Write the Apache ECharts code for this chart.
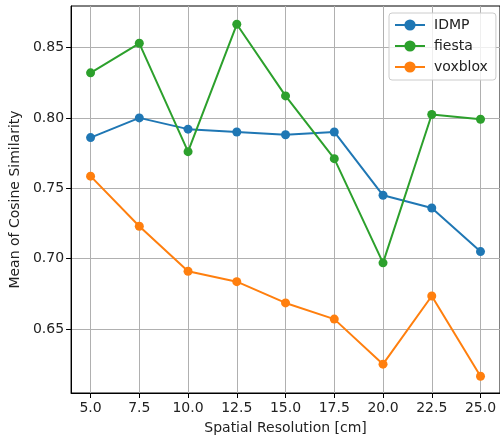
<!DOCTYPE html>
<html>
<head>
<meta charset="utf-8">
<script src="https://cdn.jsdelivr.net/npm/echarts@6/dist/echarts.min.js"></script>
<style>html,body{margin:0;padding:0;background:#fff;}#c{width:500px;height:440px;}</style>
</head>
<body>
<div id="c"></div>
<script>
const resolutions = [5.0, 7.5, 10.0, 12.5, 15.0, 17.5, 20.0, 22.5, 25.0];
const idmp = [0.786, 0.800, 0.792, 0.790, 0.788, 0.790, 0.745, 0.736, 0.705];
const fiesta = [0.832, 0.853, 0.776, 0.8665, 0.8156, 0.771, 0.697, 0.8024, 0.799];
const voxblox = [0.7586, 0.723, 0.691, 0.6836, 0.6685, 0.657, 0.625, 0.6734, 0.6164];
const yTicks = [0.65, 0.70, 0.75, 0.80, 0.85];
const seriesNames = ['IDMP', 'fiesta', 'voxblox'];
const seriesColors = ['#1f77b4', '#2ca02c', '#ff7f0e'];

const font = 'DejaVu Sans';
const textColor = '#222';
const pairs = arr => resolutions.map((x, i) => [x, arr[i]]);
const dataSets = [idmp, fiesta, voxblox];

const chart = echarts.init(document.getElementById('c'), null, {renderer: 'canvas'});
chart.setOption({
  animation: false,
  backgroundColor: '#fff',
  grid: {left: 71, top: 6, width: 431, bottom: 45, show: true, borderColor: '#000', borderWidth: 1, backgroundColor: 'transparent'},
  xAxis: {
    type: 'value', min: 4, max: 26,
    name: 'Spatial Resolution [cm]', nameLocation: 'middle', nameGap: 28,
    nameTextStyle: {fontFamily: font, fontSize: 14, color: textColor},
    axisLine: {show: true, lineStyle: {color: '#000', width: 1}},
    axisTick: {show: true, length: 5, lineStyle: {color: '#000'}, customValues: resolutions},
    axisLabel: {fontFamily: font, fontSize: 14, color: textColor, margin: 8, customValues: resolutions,
      formatter: v => v.toFixed(1)},
    splitLine: {show: true, lineStyle: {color: '#b0b0b0', width: 1}}
  },
  yAxis: {
    type: 'value', min: 0.6045, max: 0.8795,
    name: 'Mean of Cosine Similarity', nameLocation: 'middle', nameGap: 49,
    nameTextStyle: {fontFamily: font, fontSize: 14, color: textColor},
    axisLine: {show: true, lineStyle: {color: '#000', width: 1}},
    axisTick: {show: true, length: 5, lineStyle: {color: '#000'}, customValues: yTicks},
    axisLabel: {fontFamily: font, fontSize: 14, color: textColor, margin: 7, customValues: yTicks,
      formatter: v => v.toFixed(2)},
    splitLine: {show: true, lineStyle: {color: '#b0b0b0', width: 1}}
  },
  legend: {
    left: 389, top: 13, orient: 'vertical',
    padding: [5, 8, 6, 5], itemGap: 7, itemWidth: 30, itemHeight: 14,
    backgroundColor: 'rgba(255,255,255,0.8)', borderColor: '#cccccc', borderWidth: 1, borderRadius: 3,
    textStyle: {fontFamily: font, fontSize: 14, color: textColor, padding: [0, 0, 0, 4]},
    data: seriesNames
  },
  series: seriesNames.map((name, i) => ({
    name: name, type: 'line', data: pairs(dataSets[i]),
    symbol: 'circle', symbolSize: 9, showSymbol: true,
    itemStyle: {color: seriesColors[i]},
    lineStyle: {color: seriesColors[i], width: 2},
    emphasis: {disabled: true}
  }))
});
</script>
</body>
</html>
